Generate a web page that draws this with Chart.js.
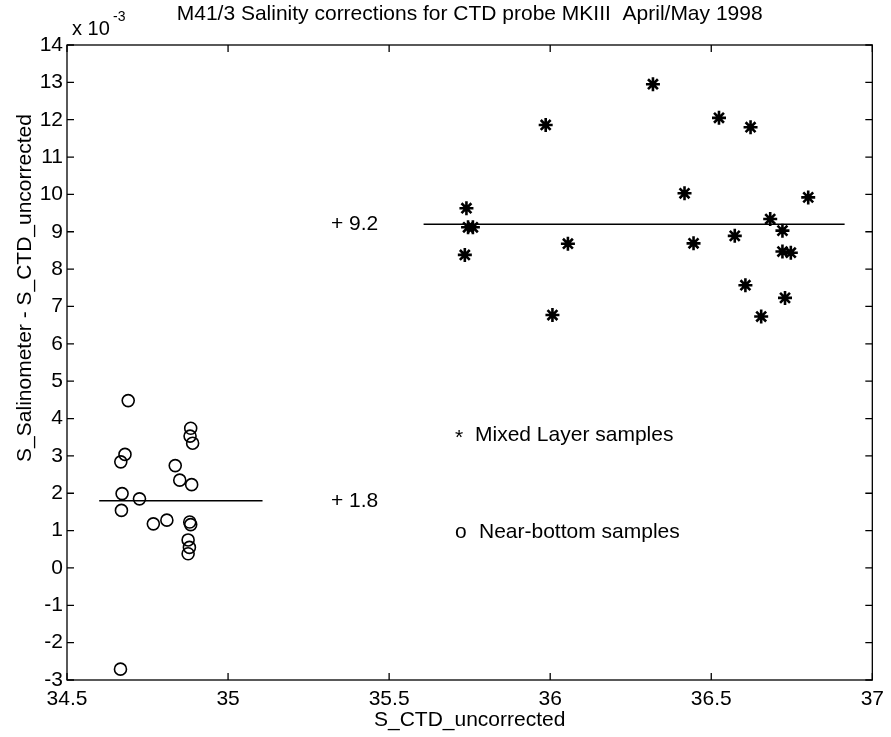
<!DOCTYPE html>
<html>
<head>
<meta charset="utf-8">
<script src="https://cdn.jsdelivr.net/npm/chart.js@4/dist/chart.umd.min.js"></script>
<style>
  html, body { margin: 0; padding: 0; background: #fff; }
  #wrap { width: 891px; height: 737px; }
</style>
</head>
<body>
<div id="wrap"><canvas id="c" width="891" height="737"></canvas></div>
<script>
// salinity values (CTD uncorrected), differences in units of 1e-3
const bottomX = [34.69, 34.884, 34.882, 34.89, 34.68, 34.667, 34.836, 34.85, 34.887, 34.671,
                 34.725, 34.669, 34.768, 34.81, 34.881, 34.884, 34.876, 34.88, 34.876, 34.666];
const bottomY = [4.48, 3.74, 3.53, 3.34, 3.04, 2.84, 2.74, 2.35, 2.23, 1.99,
                 1.85, 1.54, 1.18, 1.28, 1.23, 1.16, 0.75, 0.55, 0.38, -2.71];

const mixedX = [36.319, 36.524, 35.986, 36.622, 36.417, 36.801, 35.74, 35.745, 35.76, 36.683,
                36.721, 36.055, 36.445, 36.573, 36.721, 36.747, 35.735, 36.606, 36.729, 36.007, 36.655];
const mixedY = [12.95, 12.05, 11.86, 11.8, 10.03, 9.92, 9.63, 9.12, 9.12, 9.34,
                9.03, 8.68, 8.69, 8.89, 8.47, 8.44, 8.38, 7.57, 7.23, 6.77, 6.73];

// mean offsets and the x-range of their lines
const bottomMean = 1.8, bottomMeanX = [34.6, 35.107];
const mixedMean = 9.2, mixedMeanX = [35.607, 36.914];

const xTicks = [34.5, 35, 35.5, 36, 36.5, 37];
const yTicks = [-3, -2, -1, 0, 1, 2, 3, 4, 5, 6, 7, 8, 9, 10, 11, 12, 13, 14];

const FONT = '"Liberation Sans", Arial, sans-serif';

const pts = (xs, ys) => xs.map((x, i) => ({ x: x, y: ys[i] }));

const frame = {
  id: 'frame',
  afterDraw(chart) {
    const ctx = chart.ctx, a = chart.chartArea;
    const xs = chart.scales.x, ys = chart.scales.y;
    ctx.save();
    ctx.strokeStyle = '#000';
    ctx.lineWidth = 1.3;
    ctx.strokeRect(a.left, a.top, a.right - a.left, a.bottom - a.top);
    ctx.beginPath();
    xTicks.forEach(v => {
      const p = xs.getPixelForValue(v);
      ctx.moveTo(p, a.bottom); ctx.lineTo(p, a.bottom - 7);
      ctx.moveTo(p, a.top); ctx.lineTo(p, a.top + 7);
    });
    yTicks.forEach(v => {
      const p = ys.getPixelForValue(v);
      ctx.moveTo(a.left, p); ctx.lineTo(a.left + 7, p);
      ctx.moveTo(a.right, p); ctx.lineTo(a.right - 7, p);
    });
    ctx.stroke();

    ctx.fillStyle = '#000';
    ctx.textBaseline = 'middle';
    ctx.font = '21px ' + FONT;
    const cx = (a.left + a.right) / 2;
    ctx.textAlign = 'center';
    ctx.fillText('M41/3 Salinity corrections for CTD probe MKIII  April/May 1998', cx, 14);
    ctx.fillText('S_CTD_uncorrected', cx, 720);

    // exponent label
    ctx.textAlign = 'left';
    ctx.font = '20px ' + FONT;
    ctx.fillText('x 10', a.left + 5, 29);
    ctx.font = '14px ' + FONT;
    ctx.fillText('-3', a.left + 46, 17);

    // y title
    ctx.font = '21px ' + FONT;
    ctx.save();
    ctx.translate(25, 288);
    ctx.rotate(-Math.PI / 2);
    ctx.textAlign = 'center';
    ctx.fillText('S_Salinometer - S_CTD_uncorrected', 0, 0);
    ctx.restore();

    // annotations
    ctx.font = '21px ' + FONT;
    ctx.textAlign = 'left';
    ctx.fillText('+ 9.2', 331, ys.getPixelForValue(mixedMean));
    ctx.fillText('+ 1.8', 331, ys.getPixelForValue(bottomMean));
    ctx.fillText('*', 455, 438);
    ctx.fillText('Mixed Layer samples', 475, 435);
    ctx.fillText('o', 455, 532);
    ctx.fillText('Near-bottom samples', 479, 532);
    ctx.restore();
  }
};

new Chart(document.getElementById('c'), {
  type: 'scatter',
  data: {
    datasets: [
      {
        label: 'Mixed Layer samples',
        data: pts(mixedX, mixedY),
        pointStyle: 'star',
        pointRadius: 7,
        borderWidth: 2.6,
        borderColor: '#000',
        backgroundColor: '#000'
      },
      {
        label: 'Near-bottom samples',
        data: pts(bottomX, bottomY),
        pointStyle: 'circle',
        pointRadius: 6,
        borderWidth: 1.6,
        borderColor: '#000',
        backgroundColor: 'rgba(0,0,0,0)'
      },
      {
        label: 'mixed mean',
        type: 'line',
        data: pts(mixedMeanX, [mixedMean, mixedMean]),
        borderColor: '#000',
        borderWidth: 1.4,
        pointRadius: 0
      },
      {
        label: 'bottom mean',
        type: 'line',
        data: pts(bottomMeanX, [bottomMean, bottomMean]),
        borderColor: '#000',
        borderWidth: 1.4,
        pointRadius: 0
      }
    ]
  },
  options: {
    responsive: false,
    animation: false,
    layout: { padding: { top: 45, right: 13, left: 0, bottom: 0 } },
    plugins: {
      legend: { display: false },
      title: { display: false },
      tooltip: { enabled: false }
    },
    scales: {
      x: {
        type: 'linear',
        min: 34.5,
        max: 37,
        afterBuildTicks: s => { s.ticks = xTicks.map(v => ({ value: v })); },
        afterFit: s => { s.height = 57; },
        grid: { display: false, drawTicks: false },
        border: { display: false },
        ticks: {
          color: '#000',
          font: { family: FONT, size: 21 },
          padding: 7,
          maxRotation: 0,
          callback: v => String(v)
        }
      },
      y: {
        type: 'linear',
        min: -3,
        max: 14,
        afterBuildTicks: s => { s.ticks = yTicks.map(v => ({ value: v })); },
        afterFit: s => { s.width = 67; },
        grid: { display: false, drawTicks: false },
        border: { display: false },
        ticks: {
          color: '#000',
          font: { family: FONT, size: 21 },
          padding: 4,
          callback: v => String(v)
        }
      }
    }
  },
  plugins: [frame]
});
</script>
</body>
</html>
